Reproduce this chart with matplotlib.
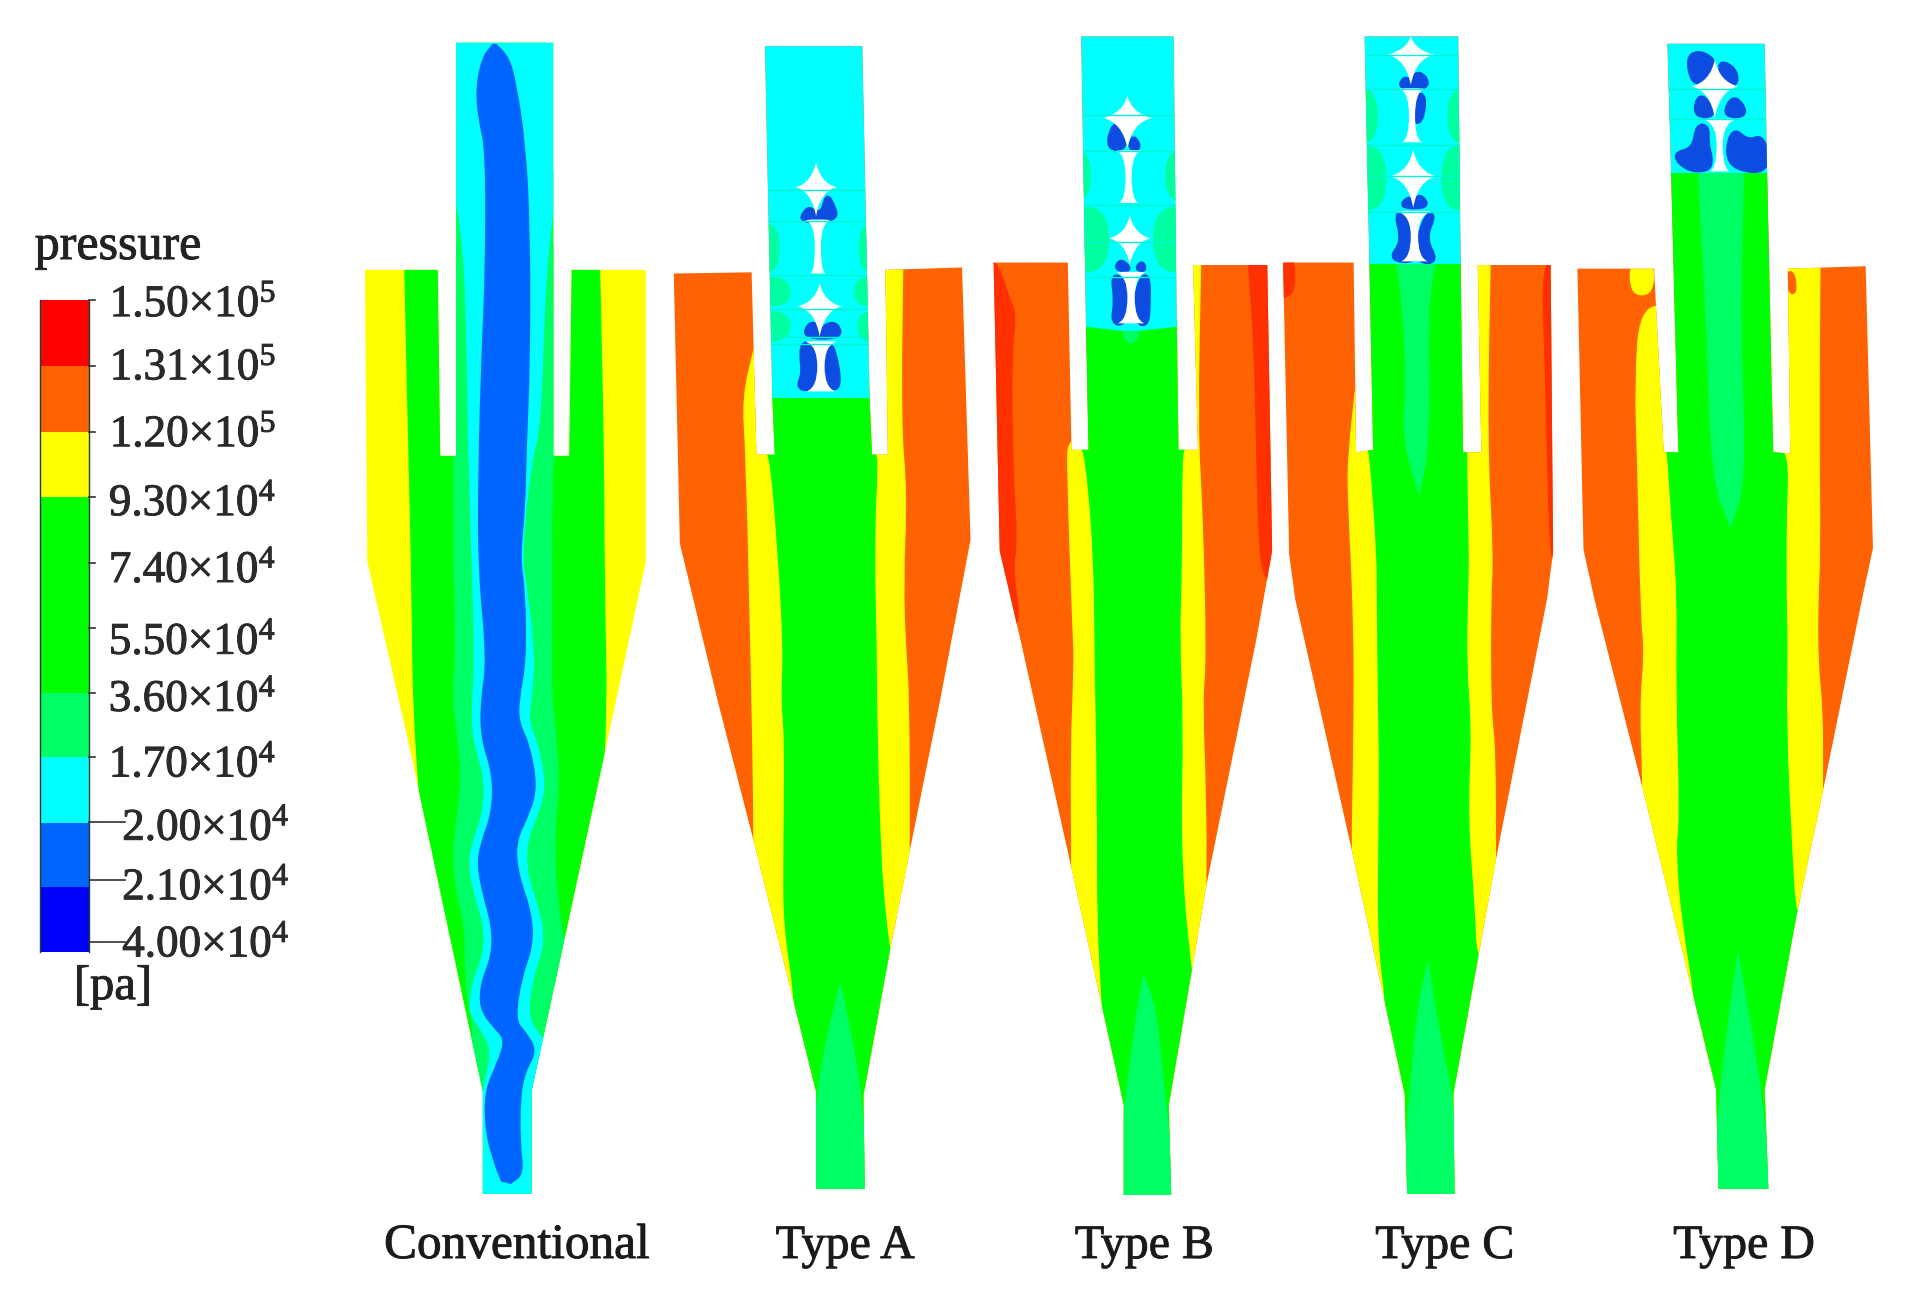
import matplotlib
matplotlib.use('Agg')
import matplotlib.pyplot as plt
import matplotlib.patheffects as pe
import numpy as np
from matplotlib.patches import Polygon, PathPatch
from matplotlib.path import Path

plt.rcParams['font.family'] = ['Liberation Serif', 'DejaVu Serif']
plt.rcParams['mathtext.fontset'] = 'stix'
plt.rcParams['mathtext.default'] = 'regular'

RED = '#ff0000'
STRIP = '#ff3000'
ORANGE = '#ff6200'
YELLOW = '#ffff00'
GREEN = '#00ff00'
LIGHT = '#00ff64'
SOFT = '#00ffa0'
CYAN = '#00ffff'
BLUE = '#0064ff'
DEEP = '#0000ff'
SPOT = '#0c4ce0'

# legend
legend_ticks = [247, 301, 355, 409, 463, 517, 570, 623, 677, 730, 783]
legend_colors = [RED, ORANGE, YELLOW, GREEN, GREEN, GREEN, LIGHT, CYAN, BLUE, DEEP]
legend_labels = ['1.50×10$^{5}$', '1.31×10$^{5}$', '1.20×10$^{5}$', '9.30×10$^{4}$',
                 '7.40×10$^{4}$', '5.50×10$^{4}$', '3.60×10$^{4}$', '1.70×10$^{4}$',
                 '2.00×10$^{4}$', '2.10×10$^{4}$', '4.00×10$^{4}$']
label_y = [251, 303, 358, 415, 470, 529, 576, 630, 682, 731, 778]
leader_y = [247, 301, 355, 409, 463, 517, 570, 623, 676, 724, 775]
label_right = [227, 227, 227, 227, 227, 227, 227, 227, 238, 238, 238]

names = ['Conventional', 'Type A', 'Type B', 'Type C', 'Type D']
name_x = [425, 695, 941, 1188, 1434]

# conventional
conv_outline = [(375, 35), (375, 375), (362, 375), (360, 222), (300, 222), (302, 462), (337, 616),
                (397, 898), (397, 982), (437, 982), (437, 898), (498, 616), (531, 462), (531, 222),
                (470, 222), (468, 375), (455, 375), (455, 35)]
conv_green_l = [(332, 200), (334, 300), (336, 380), (338, 470), (340, 620), (360, 800), (380, 1000)]
conv_green_r = [(493, 200), (497, 380), (497, 470), (500, 620), (480, 800), (460, 1000)]
conv_light_l = [(372, 140), (373, 380), (373, 459), (374, 543), (372, 576), (376, 607), (379, 638),
                (376, 669), (372, 700), (374, 731), (382, 762), (382, 792), (384, 824), (389, 848),
                (385, 880), (385, 1000)]
conv_light_r = [(458, 140), (458, 375), (454, 379), (454, 543), (454, 576), (461, 638), (455, 700),
                (462, 768), (470, 800), (470, 1000)]
conv_cyan_l = [(370, 30), (370, 140), (381, 200), (384, 300), (385, 375), (388, 470), (390, 543),
               (388, 576), (388, 607), (398, 638), (397, 669), (388, 693), (385, 712), (390, 737),
               (398, 762), (397, 786), (388, 808), (385, 833), (394, 845), (404, 864), (399, 886),
               (396, 901), (390, 1000)]
conv_cyan_r = [(460, 30), (460, 140), (449, 218), (445, 352), (437, 379), (429, 459), (434, 486),
               (440, 543), (437, 576), (435, 594), (443, 613), (449, 647), (443, 669), (433, 693),
               (434, 721), (444, 749), (448, 777), (438, 805), (434, 839), (448, 855), (460, 880),
               (460, 1000)]
conv_blue_l = [(405, 36), (396, 47), (391, 73), (393, 97), (399, 124), (399, 218), (396, 285),
               (393, 386), (393, 470), (400, 543), (395, 576), (395, 607), (405, 638), (404, 669),
               (395, 693), (392, 712), (397, 737), (404, 762), (404, 786), (395, 808), (394, 830),
               (405, 845), (415, 855), (409, 873), (398, 898), (399, 932), (406, 957), (412, 972)]
conv_blue_r = [(408, 36), (419, 47), (425, 70), (432, 117), (436, 184), (436, 302), (433, 369),
               (432, 419), (428, 459), (432, 486), (433, 543), (427, 576), (427, 594), (436, 613),
               (442, 647), (436, 669), (424, 693), (427, 721), (437, 749), (439, 777), (429, 805),
               (424, 839), (432, 848), (442, 864), (432, 882), (428, 904), (428, 941), (431, 966),
               (420, 974)]

# type A
a_outline = [(629, 38), (635, 327), (637, 374), (622, 374), (618, 224), (554, 225), (559, 447), (590, 576),
             (620, 693), (671, 898), (671, 978), (711, 978), (710, 901), (731, 786), (748, 700), (773, 576),
             (798, 444), (791, 220), (728, 222), (730, 374), (717, 374), (715, 327), (709, 38)]
a_yellow_l = [(620, 285), (610, 327), (613, 372), (617, 534), (620, 693), (620, 1000)]
a_yellow_r = [(743, 200), (741, 350), (746, 405), (743, 480), (745, 534), (748, 576), (748, 700), (748, 1000)]
a_green_l = [(630, 320), (630, 374), (633, 379), (639, 447), (644, 534), (642, 576), (645, 607), (644, 700),
             (644, 762), (654, 824), (660, 1000)]
a_green_r = [(720, 320), (720, 374), (722, 379), (719, 447), (721, 534), (721, 576), (724, 700), (729, 761),
             (735, 800), (730, 1000)]
a_light_low = [(691, 808), (691, 808), (680, 850), (671, 901), (665, 1000), (715, 1000), (709, 901), (700, 850)]
a_cyan = [(626, 30), (722, 30), (722, 327), (626, 327)]
a_light_rects = [(620, 184, 641, 224), (706, 184, 726, 224), (620, 228, 650, 252),
                 (702, 228, 728, 252), (620, 256, 650, 281), (705, 256, 728, 281)]
a_seams = [156, 182, 226, 254, 277, 283]
a_blue = [[(658, 181), (665, 171), (669, 175), (677, 175), (680, 161), (684, 168), (688, 179), (673, 181)],
          [(662, 277), (665, 267), (672, 267), (674, 275), (680, 267), (688, 267), (691, 277)],
          [(661, 282), (669, 285), (673, 304), (672, 319), (656, 320), (661, 307), (659, 291)],
          [(680, 285), (685, 285), (691, 319), (680, 319), (678, 304)]]
a_stars = [(671, 154, 17, 21, 24), (674, 252, 18, 19, 25)]
a_spools = [(672.5, 181, 225, 10, 6, 2.5), (675, 281, 322, 13, 12, 3)]

# type B
b_outline = [(889, 30), (893, 270), (895, 370), (881, 370), (878, 216), (817, 216), (822, 453), (839, 526),
             (881, 714), (924, 909), (924, 983), (963, 983), (961, 909), (992, 728), (1033, 526),
             (1046, 453), (1042, 218), (981, 218), (985, 370), (969, 370), (967, 218), (965, 30)]
b_red_l = [(810, 210), (822, 218), (830, 245), (836, 258), (832, 292), (833, 386), (837, 446), (833, 469),
           (841, 520), (810, 520)]
b_red_r = [(1026, 210), (1026, 218), (1031, 285), (1033, 386), (1035, 453), (1040, 480), (1060, 480), (1060, 210)]
b_yellow_l = [(900, 362), (878, 360), (877, 385), (882, 526), (883, 542), (880, 620), (881, 714), (881, 1000)]
b_yellow_r = [(988, 200), (985, 352), (989, 419), (992, 542), (989, 576), (992, 660), (992, 728), (992, 1000)]
b_green_l = [(888, 262), (888, 370), (892, 374), (899, 453), (900, 542), (902, 660), (902, 761), (906, 828),
             (915, 1000)]
b_green_r = [(975, 262), (975, 370), (972, 374), (972, 469), (970, 526), (973, 593), (971, 694), (977, 778),
             (985, 830), (970, 1000)]
b_light_low = [(940, 801), (940, 801), (935, 828), (924, 912), (915, 1000), (970, 1000), (959, 912), (951, 828)]
b_cyan = [(885, 25), (975, 25), (975, 268), (930, 273), (885, 268)]
b_light_tip = [(920, 272), (930, 286), (940, 272)]
b_light_rects = [(875, 124, 897, 165), (958, 124, 982, 165), (875, 170, 912, 224), (948, 170, 985, 224)]
b_seams = [95, 124, 169, 199, 228]
b_blue = [[(911, 122), (915, 104), (921, 103), (926, 122)], [(929, 122), (932, 112), (937, 122)],
          [(918, 221), (921, 215), (926, 218), (928, 222)], [(935, 221), (939, 216), (941, 222)],
          [(915, 226), (924, 231), (928, 251), (924, 266), (915, 265), (918, 248)],
          [(939, 228), (944, 228), (944, 251), (943, 266), (936, 266), (933, 248)]]
b_stars = [(927, 97, 20, 18, 25), (929, 196, 17, 19, 22)]
b_spools = [(928, 124, 167, 10, 8, 2.5), (930, 224, 266, 12, 11, 3)]

# type C
c_outline = [(1122, 30), (1126, 218), (1129, 370), (1115, 372), (1113, 216), (1055, 216), (1060, 456), (1065, 493),
             (1111, 697), (1155, 900), (1157, 982), (1196, 982), (1195, 900), (1230, 707), (1272, 493),
             (1277, 454), (1275, 218), (1215, 218), (1218, 372), (1203, 372), (1201, 218), (1199, 30)]
c_red_l = [(1050, 210), (1065, 210), (1065, 240), (1058, 245), (1050, 245)]
c_red_r = [(1267, 210), (1270, 300), (1272, 380), (1274, 450), (1278, 470), (1290, 470), (1290, 210)]
c_yellow_l = [(1115, 312), (1108, 375), (1108, 410), (1113, 510), (1113, 600), (1111, 697), (1111, 1000)]
c_yellow_r = [(1226, 200), (1223, 363), (1228, 457), (1226, 493), (1226, 582), (1230, 618), (1230, 707), (1230, 1000)]
c_green_l = [(1124, 210), (1124, 370), (1126, 374), (1132, 457), (1132, 493), (1133, 582), (1134, 636), (1133, 707),
             (1133, 779), (1140, 830), (1145, 1000)]
c_green_r = [(1206, 210), (1206, 374), (1208, 457), (1207, 493), (1206, 547), (1210, 600), (1207, 672), (1213, 750),
             (1214, 786), (1225, 800), (1205, 1000)]
c_light_up = [(1148, 216), (1148, 216), (1153, 252), (1156, 315), (1153, 363), (1167, 408), (1167, 408), (1176, 363),
              (1174, 252), (1181, 216), (1181, 216)]
c_light_low = [(1174, 789), (1174, 789), (1165, 830), (1159, 900), (1150, 1000), (1205, 1000), (1195, 903), (1184, 850)]
c_cyan = [(1118, 25), (1208, 25), (1208, 217), (1118, 217)]
c_light_rects = [(1108, 73, 1133, 118), (1190, 73, 1215, 118), (1108, 120, 1140, 173), (1185, 120, 1215, 173)]
c_seams = [45, 73, 119, 145, 174]
c_blue = [[(1151, 72), (1155, 64), (1160, 68), (1165, 60), (1172, 64), (1173, 72)],
          [(1165, 78), (1171, 79), (1169, 98), (1163, 101)],
          [(1152, 170), (1158, 163), (1162, 166), (1168, 161), (1174, 170)],
          [(1148, 175), (1156, 177), (1162, 202), (1163, 215), (1143, 213), (1154, 199)],
          [(1173, 177), (1179, 177), (1171, 196), (1181, 215), (1167, 215), (1165, 202)]]
c_stars = [(1160, 45, 19, 15, 25), (1162, 145, 19, 22, 26)]
c_spools = [(1161, 73, 117, 10, 8, 2.5), (1163, 174, 215, 14, 11, 3)]

# type D
d_outline = [(1371, 36), (1374, 142), (1380, 372), (1368, 372), (1360, 221), (1297, 221), (1302, 452), (1311, 493),
             (1351, 650), (1411, 896), (1413, 978), (1454, 978), (1451, 896), (1477, 754), (1499, 650), (1531, 493),
             (1540, 451), (1534, 219), (1470, 221), (1472, 373), (1458, 372), (1453, 142), (1451, 36)]
d_yellow_l = [(1375, 250), (1348, 253), (1344, 315), (1346, 378), (1349, 510), (1352, 536), (1348, 582), (1351, 650),
              (1351, 1000)]
d_yellow_r = [(1497, 200), (1496, 347), (1497, 457), (1495, 493), (1495, 546), (1499, 582), (1499, 650), (1499, 1000)]
d_yellow_spot = [(1340, 212), (1360, 212), (1360, 243), (1340, 243)]
d_orange_spot = [(1468, 223), (1476, 223), (1478, 242), (1470, 242)]
d_green_l = [(1370, 140), (1370, 372), (1371, 377), (1374, 426), (1379, 489), (1378, 565), (1381, 672), (1378, 700),
             (1383, 761), (1395, 830), (1405, 1000)]
d_green_r = [(1456, 140), (1456, 368), (1471, 371), (1469, 426), (1469, 493), (1470, 529), (1469, 600), (1474, 707),
             (1477, 754), (1490, 770), (1460, 1000)]
d_light_up = [(1396, 142), (1396, 142), (1403, 268), (1407, 395), (1423, 435), (1423, 435), (1436, 395), (1431, 268),
              (1434, 142), (1434, 142)]
d_light_low = [(1429, 782), (1429, 782), (1422, 830), (1414, 896), (1405, 1000), (1460, 1000), (1450, 910), (1441, 850)]
d_cyan = [(1365, 30), (1458, 30), (1458, 142), (1365, 142)]
d_seams = [73, 98]
d_blue = [[(1388, 48), (1396, 43), (1407, 48), (1409, 54), (1403, 67), (1392, 68)],
          [(1415, 51), (1426, 57), (1428, 68), (1420, 71), (1415, 60)],
          [(1398, 76), (1411, 95), (1393, 95)], [(1426, 78), (1437, 95), (1417, 95)],
          [(1396, 103), (1404, 105), (1403, 117), (1407, 133), (1403, 140), (1387, 139), (1376, 127), (1393, 123)],
          [(1425, 106), (1437, 117), (1450, 112), (1454, 141), (1428, 139), (1420, 127)]]
d_stars = [(1410, 71, 19, 22, 26)]
d_spools = [(1414, 98, 141, 14, 8, 2.5)]


def band(left, right):
    # doubled end points keep the band corners sharp
    return [left[0]] + left + [left[-1], right[-1]] + right[::-1] + [right[0]]


def rect(box):
    x0, y0, x1, y1 = box
    return [(x0, y0), (x1, y0), (x1, y1), (x0, y1)]


def rounded(pts):
    # closed curve with the read points as control points, contour edges are not straight
    p = np.array(pts, dtype=float)
    mid = (p + np.roll(p, -1, axis=0)) / 2
    verts = [mid[-1]]
    for a, b in zip(p, mid):
        verts += [a, b]
    return Path(verts, [Path.MOVETO] + [Path.CURVE3] * (2 * len(p)))


def star_path(cx, cy, rx, up, down):
    k = rx * 0.2
    verts = [(cx, cy - up), (cx + k, cy - k), (cx + rx, cy), (cx + k, cy + k), (cx, cy + down),
             (cx - k, cy + k), (cx - rx, cy), (cx - k, cy - k), (cx, cy - up)]
    codes = [Path.MOVETO] + [Path.CURVE3] * 8
    return Path(verts, codes)


def spool_path(cx, y0, y1, tw, bw, neck):
    mid = (y0 + y1) / 2
    verts = [(cx - tw, y0), (cx, y0 - 1), (cx + tw, y0), (cx + neck, y0 + 3), (cx + neck, mid),
             (cx + neck, y1 - 3), (cx + bw, y1), (cx - bw, y1), (cx - neck, y1 - 3), (cx - neck, mid),
             (cx - neck, y0 + 3), (cx - tw, y0)]
    codes = [Path.MOVETO, Path.CURVE3, Path.CURVE3, Path.CURVE3, Path.CURVE3, Path.CURVE3, Path.CURVE3,
             Path.LINETO, Path.CURVE3, Path.CURVE3, Path.CURVE3, Path.CURVE3]
    return Path(verts, codes)


def draw_cyclone(ax, outline, base, layers, tube=None, over=(), seams=(), blues=(), stars=(), spools=()):
    shape = Polygon(outline, closed=True, facecolor=base, edgecolor='none')
    ax.add_patch(shape)
    for color, pts in layers:
        p = PathPatch(rounded(pts), facecolor=color, edgecolor='none')
        ax.add_patch(p)
        p.set_clip_path(shape)
    if tube is not None:
        p = Polygon(tube, closed=True, facecolor=CYAN, edgecolor='none')
        ax.add_patch(p)
        p.set_clip_path(shape)
        xs = [q[0] for q in tube]
        for color, pts in over:
            q = PathPatch(rounded(pts), facecolor=color, edgecolor='none')
            ax.add_patch(q)
            q.set_clip_path(shape)
        for y in seams:
            line, = ax.plot([min(xs), max(xs)], [y, y], color='#00f6d0', lw=1)
            line.set_clip_path(shape)
    for pts in blues:
        q = PathPatch(rounded(pts), facecolor=SPOT, edgecolor=SPOT, lw=4)
        ax.add_patch(q)
        q.set_clip_path(shape)
    for s in stars:
        ax.add_patch(PathPatch(star_path(*s), facecolor='white', edgecolor='none'))
    for s in spools:
        ax.add_patch(PathPatch(spool_path(*s), facecolor='white', edgecolor='none'))


fig = plt.figure(figsize=(19.07, 12.91), dpi=100)
ax = fig.add_axes([0, 0, 1, 1])
ax.set_xlim(0, 1568)
ax.set_ylim(1062, 0)
ax.axis('off')

draw_cyclone(ax, conv_outline, YELLOW, [
    (GREEN, band(conv_green_l, conv_green_r)),
    (LIGHT, band(conv_light_l, conv_light_r)),
    (CYAN, band(conv_cyan_l, conv_cyan_r)),
    (BLUE, band(conv_blue_l, conv_blue_r)),
])

draw_cyclone(ax, a_outline, ORANGE, [
    (YELLOW, band(a_yellow_l, a_yellow_r)),
    (GREEN, band(a_green_l, a_green_r)),
    (LIGHT, a_light_low),
], a_cyan, [(SOFT, rect(b)) for b in a_light_rects], a_seams, a_blue, a_stars, a_spools)

draw_cyclone(ax, b_outline, ORANGE, [
    (STRIP, b_red_l), (STRIP, b_red_r),
    (YELLOW, band(b_yellow_l, b_yellow_r)),
    (GREEN, band(b_green_l, b_green_r)),
    (LIGHT, b_light_low),
], b_cyan, [(LIGHT, b_light_tip)] + [(SOFT, rect(b)) for b in b_light_rects], b_seams, b_blue, b_stars, b_spools)

draw_cyclone(ax, c_outline, ORANGE, [
    (STRIP, c_red_l), (STRIP, c_red_r),
    (YELLOW, band(c_yellow_l, c_yellow_r)),
    (GREEN, band(c_green_l, c_green_r)),
    (LIGHT, c_light_up), (LIGHT, c_light_low),
], c_cyan, [(SOFT, rect(b)) for b in c_light_rects], c_seams, c_blue, c_stars, c_spools)

draw_cyclone(ax, d_outline, ORANGE, [
    (YELLOW, band(d_yellow_l, d_yellow_r)),
    (YELLOW, d_yellow_spot), (ORANGE, d_orange_spot),
    (GREEN, band(d_green_l, d_green_r)),
    (LIGHT, d_light_up), (LIGHT, d_light_low),
], d_cyan, (), d_seams, d_blue, d_stars, d_spools)

# colour legend
heavy = [pe.withStroke(linewidth=0.7, foreground='#2a2a2a')]
ticks = np.array(legend_ticks)
ax.bar([53] * 10, np.diff(ticks), width=40, bottom=ticks[:-1], color=legend_colors, linewidth=0)
ax.plot([33, 33], [247, 783], color='#204030', lw=1)
ax.plot([73, 73], [247, 783], color='#204030', lw=1)
for i, y in enumerate(legend_ticks):
    x1 = 78 if i < 8 else 103
    ax.plot([73, x1], [leader_y[i], leader_y[i]], color='#303030', lw=1.2)
    ax.text(label_right[i], label_y[i], legend_labels[i], ha='right', va='center', fontsize=32.5, color='#2a2a2a',
            path_effects=heavy)

ax.text(97, 203, 'pressure', ha='center', va='center', fontsize=36, color='#222222', path_effects=heavy)
ax.text(93, 812, '[pa]', ha='center', va='center', fontsize=35, color='#222222', path_effects=heavy)

for x, name in zip(name_x, names):
    ax.text(x, 1025, name, ha='center', va='center', fontsize=35.5 if name == 'Conventional' else 34.5,
            color='#1a1a1a', path_effects=heavy)

fig.savefig('out.png', dpi=100)
